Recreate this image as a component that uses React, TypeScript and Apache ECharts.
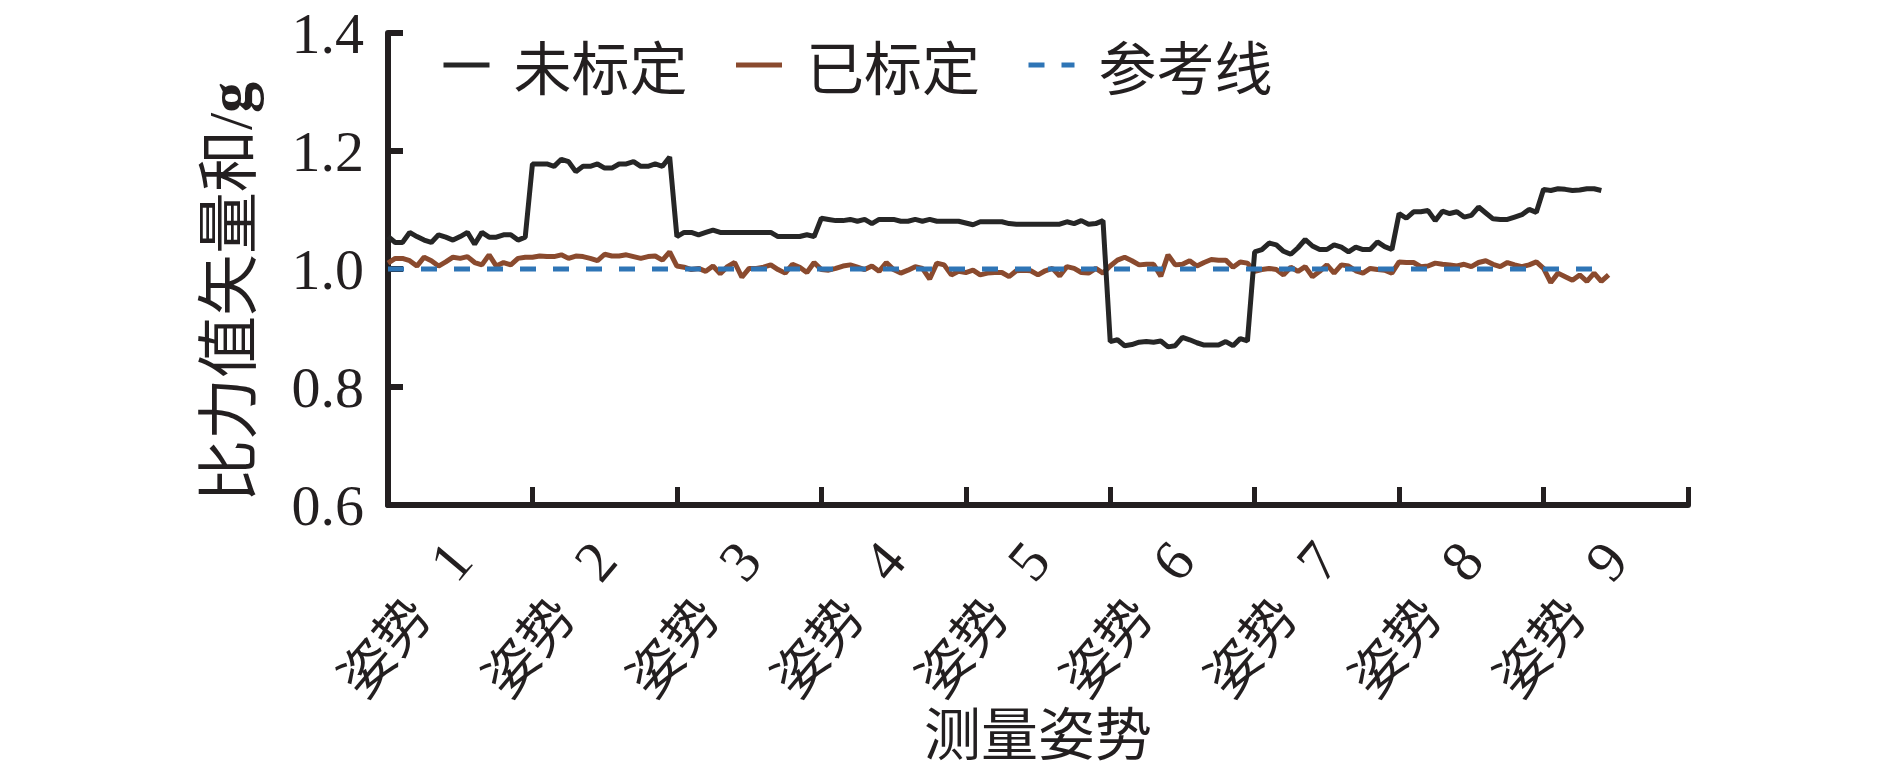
import React, { useEffect, useRef } from 'react';
import * as echarts from 'echarts';

const categories = ['姿势 1', '姿势 2', '姿势 3', '姿势 4', '姿势 5', '姿势 6', '姿势 7', '姿势 8', '姿势 9'];
const yTickValues = [0.6, 0.8, 1.0, 1.2, 1.4];
const SAMPLES_PER_POSE = 20;
const referenceValue = 1.0;

// 未标定 (uncalibrated), one list per pose
const uncalibrated: number[][] = [
  [1.055, 1.045, 1.045, 1.062, 1.055, 1.049, 1.045, 1.058, 1.054, 1.049, 1.055, 1.062, 1.042, 1.062, 1.054, 1.054, 1.058, 1.058, 1.049, 1.054],
  [1.178, 1.178, 1.178, 1.174, 1.186, 1.182, 1.165, 1.174, 1.174, 1.178, 1.171, 1.171, 1.178, 1.178, 1.182, 1.174, 1.174, 1.178, 1.174, 1.190],
  [1.055, 1.062, 1.062, 1.058, 1.062, 1.066, 1.062, 1.062, 1.062, 1.062, 1.062, 1.062, 1.062, 1.062, 1.055, 1.055, 1.055, 1.055, 1.058, 1.055],
  [1.086, 1.084, 1.082, 1.082, 1.084, 1.081, 1.084, 1.077, 1.084, 1.084, 1.084, 1.081, 1.081, 1.084, 1.081, 1.084, 1.081, 1.081, 1.081, 1.081],
  [1.078, 1.075, 1.080, 1.080, 1.080, 1.080, 1.077, 1.076, 1.076, 1.076, 1.076, 1.076, 1.076, 1.076, 1.080, 1.077, 1.082, 1.076, 1.077, 1.082],
  [0.877, 0.880, 0.870, 0.872, 0.876, 0.877, 0.876, 0.878, 0.868, 0.870, 0.884, 0.880, 0.875, 0.871, 0.871, 0.871, 0.877, 0.870, 0.882, 0.878],
  [1.029, 1.033, 1.044, 1.041, 1.030, 1.025, 1.036, 1.050, 1.039, 1.033, 1.033, 1.041, 1.037, 1.029, 1.037, 1.033, 1.033, 1.046, 1.038, 1.033],
  [1.094, 1.086, 1.097, 1.097, 1.099, 1.082, 1.098, 1.094, 1.097, 1.088, 1.091, 1.105, 1.095, 1.085, 1.084, 1.084, 1.088, 1.092, 1.101, 1.096],
  [1.135, 1.133, 1.136, 1.135, 1.133, 1.134, 1.136, 1.136, 1.133],
];

// 已标定 (calibrated), one list per pose
const calibrated: number[][] = [
  [1.010, 1.018, 1.018, 1.014, 1.005, 1.020, 1.014, 1.005, 1.012, 1.020, 1.018, 1.021, 1.011, 1.007, 1.024, 1.005, 1.011, 1.007, 1.018, 1.020],
  [1.020, 1.022, 1.021, 1.021, 1.024, 1.018, 1.022, 1.021, 1.018, 1.014, 1.025, 1.022, 1.022, 1.024, 1.021, 1.018, 1.021, 1.022, 1.015, 1.029],
  [1.005, 1.003, 0.999, 1.001, 0.996, 1.005, 0.992, 1.004, 1.011, 0.986, 1.001, 1.001, 1.003, 1.007, 0.999, 0.993, 1.008, 1.003, 0.994, 1.011],
  [0.999, 0.998, 1.001, 1.005, 1.007, 1.003, 0.999, 1.005, 0.996, 1.011, 0.999, 0.993, 0.998, 1.004, 1.001, 0.983, 1.010, 1.007, 0.990, 0.996],
  [0.994, 0.998, 0.990, 0.993, 0.994, 0.994, 0.987, 0.997, 0.998, 0.997, 0.990, 0.997, 1.001, 0.988, 1.004, 1.001, 0.994, 0.993, 1.001, 0.993],
  [1.005, 1.015, 1.020, 1.014, 1.007, 1.008, 1.008, 0.988, 1.024, 1.007, 1.008, 1.014, 1.005, 1.011, 1.016, 1.015, 1.015, 1.003, 1.012, 1.010],
  [0.996, 0.999, 1.001, 0.999, 0.990, 1.003, 0.996, 1.004, 0.987, 0.996, 1.007, 0.993, 1.007, 1.005, 0.997, 0.993, 1.001, 0.999, 0.998, 0.993],
  [1.012, 1.011, 1.011, 1.004, 1.005, 1.010, 1.008, 1.007, 1.005, 1.008, 1.004, 1.011, 1.014, 1.008, 1.004, 1.011, 1.007, 1.004, 1.007, 1.012],
  [1.001, 0.977, 0.993, 0.987, 0.981, 0.990, 0.979, 0.993, 0.979, 0.990],
];

const seriesNames = ['未标定', '已标定', '参考线'];
const seriesColors = ['#262626', '#8A4A2E', '#2E75B6'];

const toPoints = (groups: number[][]) => {
  const out: [number, number][] = [];
  groups.forEach((g, p) => g.forEach((v, j) => out.push([p * SAMPLES_PER_POSE + j, v])));
  return out;
};

const INK = '#231F20';
const SERIF = "'Liberation Serif', 'Noto Sans CJK SC', serif";
const CJK = "'Noto Sans CJK SC', sans-serif";
const LINE_W = 5;

export default function App() {
  const ref = useRef<HTMLDivElement>(null);
  useEffect(() => {
    if (!ref.current) return;
    const chart = echarts.init(ref.current, undefined, { renderer: 'svg' });
    const blackPts = toPoints(uncalibrated);
    const redPts = toPoints(calibrated);
    const lastX = blackPts[blackPts.length - 1][0];
    const refPts: [number, number][] = [[0, referenceValue], [lastX, referenceValue]];
    chart.setOption({
      animation: false,
      backgroundColor: '#ffffff',
      grid: { left: 388, right: 202, top: 33, bottom: 269, containLabel: false },
      legend: {
        data: seriesNames,
        left: 436,
        top: 31,
        itemWidth: 46,
        itemHeight: 14,
        itemGap: 46,
        itemStyle: { opacity: 0, color: 'transparent', borderColor: 'transparent', borderWidth: 0 },
        lineStyle: { width: LINE_W },
        textStyle: { fontFamily: CJK, fontSize: 58, color: INK, padding: [0, 0, 0, 19] },
      },
      xAxis: [
        {
          type: 'category',
          data: categories,
          boundaryGap: true,
          axisLine: { show: true, lineStyle: { color: INK, width: 6 } },
          axisTick: { show: true, inside: true, length: 18, lineStyle: { color: INK, width: 5 } },
          splitLine: { show: false },
          axisLabel: {
            interval: 0,
            rotate: 50,
            margin: 45,
            fontFamily: SERIF,
            fontSize: 56,
            color: INK,
            formatter: (v: string) => {
              const [a, b] = v.split(' ');
              return `{c|${a}} {n|${b}}`;
            },
            rich: {
              c: { fontFamily: CJK, fontSize: 54, color: INK },
              n: { fontFamily: SERIF, fontSize: 58, color: INK, padding: [0, 0, 0, 26] },
            },
          },
          name: '测量姿势',
          nameLocation: 'middle',
          nameGap: 195,
          nameMoveOverlap: false,
          nameTextStyle: { fontFamily: CJK, fontSize: 57, lineHeight: 60, color: INK },
        },
        { type: 'value', min: 0, max: SAMPLES_PER_POSE * categories.length, show: false },
      ],
      yAxis: {
        type: 'value',
        min: yTickValues[0],
        max: yTickValues[yTickValues.length - 1],
        interval: 0.2,
        axisLine: { show: true, lineStyle: { color: INK, width: 6 } },
        axisTick: { show: true, inside: true, length: 15, lineStyle: { color: INK, width: 6 } },
        splitLine: { show: false },
        axisLabel: {
          margin: 24,
          fontFamily: SERIF,
          fontSize: 58,
          color: INK,
          formatter: (v: number) => v.toFixed(1),
        },
        name: '{a|比力值矢量和/}{b|g}',
        nameLocation: 'middle',
        nameGap: 127,
        nameRotate: 90,
        nameMoveOverlap: false,
        nameTextStyle: {
          padding: [0, 46, 0, 0],
          rich: {
            a: { fontFamily: SERIF, fontSize: 62, color: INK },
            b: { fontFamily: SERIF, fontSize: 62, color: INK, fontWeight: 'bold' },
          },
        },
      },
      series: [
        {
          name: seriesNames[0],
          type: 'line',
          xAxisIndex: 1,
          data: blackPts,
          symbol: 'none',
          color: seriesColors[0],
          lineStyle: { color: seriesColors[0], width: LINE_W },
          z: 3,
        },
        {
          name: seriesNames[1],
          type: 'line',
          xAxisIndex: 1,
          data: redPts,
          symbol: 'none',
          color: seriesColors[1],
          lineStyle: { color: seriesColors[1], width: LINE_W },
          z: 2,
        },
        {
          name: seriesNames[2],
          type: 'line',
          xAxisIndex: 1,
          data: refPts,
          symbol: 'none',
          color: seriesColors[2],
          lineStyle: { color: seriesColors[2], width: LINE_W, type: [16, 17] },
          z: 4,
        },
      ],
    });
    return () => chart.dispose();
  }, []);
  return <div ref={ref} style={{ position: 'fixed', left: 0, top: 0, width: 1890, height: 774 }} />;
}
